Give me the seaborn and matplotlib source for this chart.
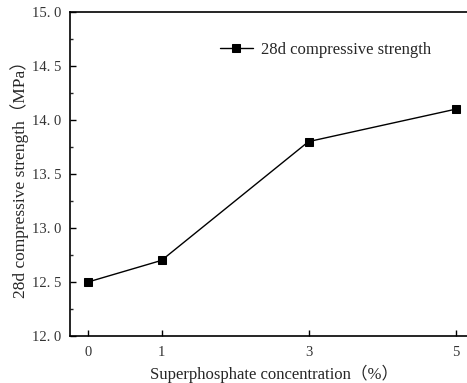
import matplotlib
matplotlib.use("Agg")
import matplotlib.pyplot as plt
import seaborn as sns
import pandas as pd
from matplotlib.ticker import FixedLocator, FixedFormatter, MultipleLocator

concentration = [0, 1, 3, 5]
strength = [12.5, 12.7, 13.8, 14.1]
ytick_vals = [12.0, 12.5, 13.0, 13.5, 14.0, 14.5, 15.0]
ytick_labels = ["12. 0", "12. 5", "13. 0", "13. 5", "14. 0", "14. 5", "15. 0"]
xtick_vals = [0, 1, 3, 5]
xtick_labels = ["0", "1", "3", "5"]
series_name = "28d compressive strength"

sns.set_style("ticks")
plt.rcParams['font.family'] = ['Liberation Serif', 'Noto Sans CJK SC', 'DejaVu Sans']

df = pd.DataFrame({"x": concentration, "y": strength})

fig = plt.figure(figsize=(4.67, 3.83), dpi=100)
ax = fig.add_axes([70/467, 47/383, 407.6/467, 324/383])
sns.lineplot(data=df, x="x", y="y", ax=ax, color="black", linewidth=1,
             marker="s", markersize=6, markeredgecolor="black", label=series_name)

ax.set_xlim(-0.245, 5.3)
ax.set_ylim(12.0, 15.0)
ax.yaxis.set_major_locator(FixedLocator(ytick_vals))
ax.yaxis.set_major_formatter(FixedFormatter(ytick_labels))
ax.yaxis.set_minor_locator(MultipleLocator(0.25))
ax.xaxis.set_major_locator(FixedLocator(xtick_vals))
ax.xaxis.set_major_formatter(FixedFormatter(xtick_labels))
ax.tick_params(axis="both", which="major", direction="in", length=4, width=1,
               labelsize=10.5, colors="black", labelcolor="#333333")
ax.tick_params(axis="y", which="major", pad=6)
ax.tick_params(axis="x", which="major", pad=7)
ax.tick_params(axis="y", which="minor", direction="in", length=2.5, width=1)
ax.tick_params(axis="x", which="minor", bottom=False)
for s in ax.spines.values():
    s.set_linewidth(1.2)
    s.set_color("black")

ax.set_xlabel("Superphosphate concentration（%）", fontsize=12, labelpad=4)
ax.set_ylabel("28d compressive strength（MPa）", fontsize=12.5)
ax.yaxis.set_label_coords(-0.1, 0.495)

leg = ax.legend(loc="upper left", bbox_to_anchor=(0.33, 0.955), frameon=False,
                fontsize=12, handlelength=2.0, handletextpad=0.5)

fig.savefig("out.png", dpi=100)
